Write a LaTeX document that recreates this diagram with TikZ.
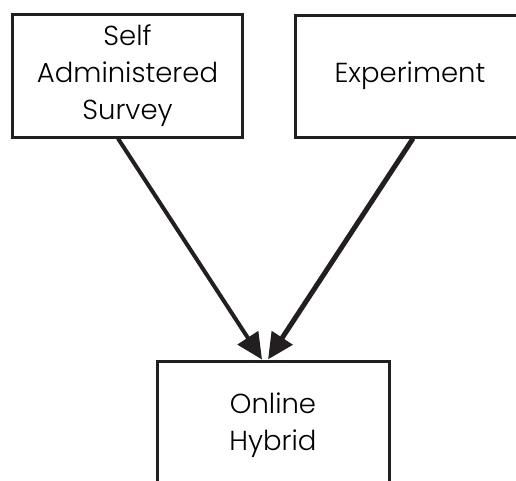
\documentclass[tikz,border=0pt]{standalone}
\usepackage{fontspec}
\setmainfont{Poppins}[UprightFont=* Light]
\usetikzlibrary{arrows.meta}
\definecolor{ink}{HTML}{231F20}
\tikzset{
  boxnode/.style={draw=ink, line width=3pt, fill=white, align=center, inner sep=0pt,
    font=\fontsize{27.5}{37}\selectfont, text=black},
  arr/.style={draw=ink, -{Triangle[length=26pt,width=24pt]}}
}
\begin{document}
\begin{tikzpicture}[x=1pt,y=-1pt]
\useasboundingbox (0,0) rectangle (516,480);
\clip (0,0) rectangle (516,480);
\node[boxnode, minimum width=230pt, minimum height=123pt] (L) at (127.5,75.5) {Self\\Administered\\Survey};
\node[boxnode, minimum width=230pt, minimum height=122pt] (R) at (410,76) {\raisebox{4pt}{Experiment}};
\node[boxnode, minimum width=232pt, minimum height=128pt] (B) at (273,425) {Online\\Hybrid};
\draw[arr, line width=4pt] ([xshift=-9.5pt]L.south) -- ([xshift=-11pt]B.north);
\draw[arr, line width=5pt] ([xshift=3pt]R.south) -- ([xshift=-5pt]B.north);
\end{tikzpicture}
\end{document}
